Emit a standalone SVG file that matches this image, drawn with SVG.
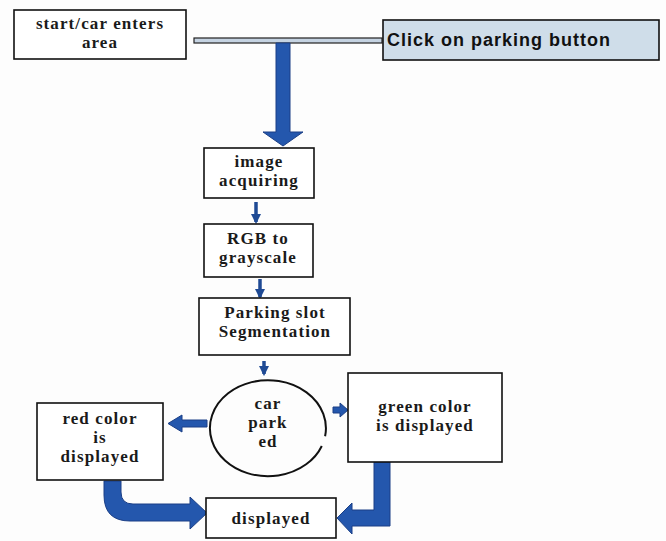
<svg xmlns="http://www.w3.org/2000/svg" width="666" height="541" viewBox="0 0 666 541">
  <style>
    .box { fill: #ffffff; stroke: #111111; stroke-width: 1.6; }
    .btn { fill: #cfdde9; stroke: #111111; stroke-width: 1.6; }
    .lbl { font-family: "Liberation Serif", "Times New Roman", serif; font-weight: bold; font-size: 17px; letter-spacing: 1.1px; fill: #1a1a1a; text-anchor: middle; }
    .sans { font-family: "Liberation Sans", Arial, sans-serif; font-weight: bold; font-size: 18px; letter-spacing: 1px; fill: #111111; }
    .flow { fill: #2457ad; stroke: #1b3f86; stroke-width: 1; }
    .thin { stroke: #1f4a94; stroke-width: 3.5; fill: none; }
  </style>
  <defs>
    <marker id="tip" viewBox="0 0 10 10" refX="8" refY="5" markerWidth="3" markerHeight="3" orient="auto" markerUnits="strokeWidth">
      <path d="M0,0 L10,5 L0,10 z" fill="#1f4a94"/>
    </marker>
  </defs>
  <rect width="666" height="541" fill="#fdfdfd"/>

  <g id="connectors">
    <!-- thin bar from start to button -->
    <rect x="194" y="38" width="188" height="5" fill="#c5d3e2" stroke="#222" stroke-width="1.2"/>
    <!-- main down arrow -->
    <path class="flow" d="M276,43 H290 V132 H303 L283,146 L263,132 H276 Z"/>
    <!-- small step arrows -->
    <line class="thin" x1="256" y1="202" x2="256" y2="222" marker-end="url(#tip)"/>
    <line class="thin" x1="260" y1="279" x2="260" y2="297" marker-end="url(#tip)"/>
    <line class="thin" x1="264" y1="361" x2="264" y2="374" marker-end="url(#tip)"/>
    <!-- decision branches -->
    <path class="flow" d="M207,420 H182 V415 L168,423.5 L182,432 V427 H207 Z"/>
    <path class="flow" d="M333,407 H340 V403 L348,410 L340,417 V413 H333 Z"/>
    <!-- red box to displayed -->
    <path class="flow" d="M104,481 H121 V492 Q121,504 133,504 H190 V497 L207,513 L190,529 V521 H130 Q104,521 104,495 Z"/>
    <!-- green box to displayed -->
    <path class="flow" d="M374,462 H390 V526 H352 V534 L337,518 L352,503 V510 H374 Z"/>
  </g>

  <g id="start">
    <rect class="box" x="14" y="10" width="172" height="49"/>
    <text class="lbl" x="100" y="29">start/car enters</text>
    <text class="lbl" x="100" y="48">area</text>
  </g>

  <g id="button">
    <rect class="btn" x="383" y="20" width="276" height="40"/>
    <text class="sans" x="387" y="46">Click on parking button</text>
  </g>

  <g id="acquire">
    <rect class="box" x="204" y="148" width="110" height="50"/>
    <text class="lbl" x="259" y="167">image</text>
    <text class="lbl" x="259" y="186">acquiring</text>
  </g>

  <g id="gray">
    <rect class="box" x="204" y="224" width="109" height="53"/>
    <text class="lbl" x="258" y="244">RGB to</text>
    <text class="lbl" x="258" y="263">grayscale</text>
  </g>

  <g id="segment">
    <rect class="box" x="199" y="298" width="151" height="57"/>
    <text class="lbl" x="275" y="318">Parking slot</text>
    <text class="lbl" x="275" y="337">Segmentation</text>
  </g>

  <g id="parked">
    <!-- decision ellipse, drawn with a small break on its lower right -->
    <path d="M321.8,446 A58,48 0 1 1 325.1,436.3" fill="none" stroke="#111" stroke-width="2"/>
    <text class="lbl" x="268" y="409">car</text>
    <text class="lbl" x="268" y="428">park</text>
    <text class="lbl" x="268" y="447">ed</text>
  </g>

  <g id="red">
    <rect class="box" x="37" y="403" width="126" height="77"/>
    <text class="lbl" x="100" y="424">red color</text>
    <text class="lbl" x="100" y="443">is</text>
    <text class="lbl" x="100" y="462">displayed</text>
  </g>

  <g id="green">
    <rect class="box" x="348" y="373" width="154" height="89"/>
    <text class="lbl" x="425" y="412">green color</text>
    <text class="lbl" x="425" y="431">is displayed</text>
  </g>

  <g id="displayed">
    <rect class="box" x="206" y="498" width="130" height="40"/>
    <text class="lbl" x="271" y="524">displayed</text>
  </g>
</svg>
